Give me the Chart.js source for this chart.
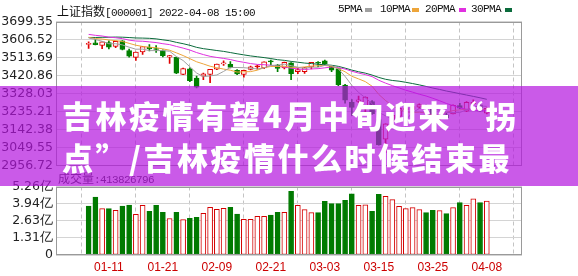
<!DOCTYPE html>
<html><head><meta charset="utf-8">
<script src="https://cdn.jsdelivr.net/npm/chart.js@4.4.1/dist/chart.umd.min.js"></script>
<style>
html,body{margin:0;padding:0;background:#fff;}
#wrap{position:relative;width:578px;height:276px;overflow:hidden;background:#fff;}
canvas{position:absolute;left:0;}
#c1{top:0;} #c2{top:176px;}
.t{position:absolute;white-space:nowrap;color:#111;}
.mono{font-family:'Liberation Mono',monospace;font-size:11px;letter-spacing:-0.6px;line-height:14px;}
.cjk{font-family:'Noto Sans CJK SC';font-size:12px;line-height:14px;letter-spacing:0;}
.mk{position:absolute;width:7px;height:4px;top:8px;}
#vt{left:58px;top:169px;color:#333;z-index:1;}
#banner{position:absolute;left:0;top:86px;width:578px;height:100px;background:rgba(180,20,222,0.7);z-index:5;}
.bt{position:absolute;left:62px;font-family:'Noto Sans CJK SC';font-weight:900;font-size:31px;line-height:31px;letter-spacing:2.5px;color:#fff;white-space:nowrap;}
</style></head>
<body><div id="wrap">
<canvas id="c1" width="578" height="176"></canvas>
<canvas id="c2" width="578" height="100"></canvas>
<div class="t" style="left:57px;top:2px;"><span class="cjk">上证指数</span><span class="mono">[000001] 2022-04-08 15:00</span></div>
<div class="t mono" style="left:338px;top:2px;">5PMA</div><div class="mk" style="left:365px;background:#a0a0a0"></div>
<div class="t mono" style="left:380px;top:2px;">10PMA</div><div class="mk" style="left:412px;background:#eda53a"></div>
<div class="t mono" style="left:425px;top:2px;">20PMA</div><div class="mk" style="left:459px;background:#e030e0"></div>
<div class="t mono" style="left:471px;top:2px;">30PMA</div><div class="mk" style="left:505px;background:#0b6b3c"></div>
<div class="t" id="vt"><span class="cjk">成交量</span><span class="mono">:413826796</span></div>
<div id="banner">
<div class="bt" style="top:13px;">吉林疫情有望4月中旬迎来“拐</div>
<div class="bt" style="top:55px;">点”/吉林疫情什么时候结束最</div>
</div>
</div>
<script>
const dates = ['01-06','01-07','01-10','01-11','01-12','01-13','01-14','01-17','01-18','01-19','01-20','01-21','01-24','01-25','01-26','01-27','01-28','02-07','02-08','02-09','02-10','02-11','02-14','02-15','02-16','02-17','02-18','02-21','02-22','02-23','02-24','02-25','02-28','03-01','03-02','03-03','03-04','03-07','03-08','03-09','03-10','03-11','03-14','03-15','03-16','03-17','03-18','03-21','03-22','03-23','03-24','03-25','03-28','03-29','03-30','03-31','04-01','04-06','04-07','04-08'];
const shownDates = ['01-11','01-21','02-09','02-21','03-03','03-15','03-25','04-08'];
const opens = [3581,3589,3576,3590,3571,3600,3549,3514,3543,3566,3560,3550,3515,3514,3427,3455,3408,3417,3426,3454,3481,3478,3447,3427,3452,3465,3460,3493,3475,3460,3486,3440,3440,3465,3487,3497,3469,3457,3371,3282,3287,3262,3287,3193,3092,3186,3210,3243,3246,3257,3262,3251,3197,3218,3223,3266,3237,3275,3270,3227];
const highs = [3594,3607,3594,3600,3598,3601,3557,3542,3571,3580,3575,3553,3525,3516,3459,3460,3418,3433,3453,3480,3497,3493,3452,3449,3470,3475,3491,3500,3479,3490,3487,3459,3463,3489,3493,3500,3470,3457,3375,3297,3315,3311,3291,3197,3172,3227,3252,3256,3263,3275,3270,3255,3216,3226,3269,3277,3287,3296,3271,3256];
const lows = [3560,3578,3559,3558,3565,3553,3515,3499,3530,3547,3540,3517,3483,3430,3425,3389,3357,3400,3384,3451,3473,3460,3425,3412,3449,3454,3456,3475,3440,3455,3400,3430,3432,3455,3466,3473,3441,3368,3278,3215,3281,3228,3220,3062,3023,3176,3200,3225,3235,3251,3245,3210,3180,3198,3223,3250,3234,3271,3236,3223];
const closes = [3586,3580,3594,3567,3597,3555,3521,3542,3570,3558,3555,3523,3524,3433,3456,3394,3361,3430,3453,3480,3486,3463,3429,3447,3466,3468,3491,3491,3457,3489,3430,3451,3462,3489,3484,3481,3448,3373,3294,3256,3296,3310,3224,3064,3171,3215,3251,3254,3260,3271,3250,3212,3215,3204,3267,3252,3283,3283,3237,3252];
const ma5 = [3614.4,3606.6,3597.4,3584.4,3584.8,3578.6,3566.8,3556.4,3557.0,3549.2,3549.2,3549.6,3546.0,3518.6,3498.2,3466.0,3433.6,3414.8,3418.8,3423.6,3442.0,3462.4,3462.2,3461.0,3458.2,3454.6,3460.2,3472.6,3474.6,3479.2,3471.6,3463.6,3457.8,3464.2,3463.2,3473.4,3472.8,3455.0,3416.0,3370.4,3333.4,3305.8,3276.0,3230.0,3213.0,3196.8,3185.0,3191.0,3230.2,3250.2,3257.2,3249.4,3241.6,3230.4,3229.6,3230.0,3244.2,3257.8,3264.4,3261.4];
const ma10 = [3617.6,3611.3,3608.9,3604.0,3600.7,3596.5,3586.7,3576.9,3570.7,3567.0,3563.9,3558.2,3551.2,3537.8,3523.7,3507.6,3491.6,3480.4,3468.7,3460.9,3454.0,3448.0,3438.5,3439.9,3440.9,3448.3,3461.3,3467.4,3467.8,3468.7,3463.1,3461.9,3465.2,3469.4,3471.2,3472.5,3468.2,3456.4,3440.1,3416.8,3403.4,3389.3,3365.5,3323.0,3291.7,3265.1,3245.4,3233.5,3230.1,3231.6,3227.0,3217.2,3216.3,3230.3,3239.9,3243.6,3246.8,3249.7,3247.4,3245.5];
const ma20 = [3632.8,3628.1,3624.5,3618.8,3615.6,3610.9,3603.2,3598.7,3597.5,3594.2,3590.8,3584.8,3580.1,3570.9,3562.2,3552.1,3539.2,3528.7,3519.7,3514.0,3509.0,3503.1,3494.9,3488.9,3482.3,3478.0,3476.5,3473.9,3468.3,3464.8,3458.6,3455.0,3451.9,3454.7,3456.1,3460.4,3464.8,3461.9,3454.0,3442.8,3433.3,3425.6,3415.4,3396.2,3381.5,3368.8,3356.8,3345.0,3335.1,3324.2,3315.2,3303.3,3290.9,3276.7,3265.8,3254.4,3246.1,3241.6,3238.8,3238.6];
const ma30 = [3617.0,3616.9,3617.9,3618.0,3619.1,3618.4,3616.6,3614.4,3613.8,3612.6,3609.8,3604.8,3600.1,3591.8,3584.9,3576.5,3566.0,3559.3,3554.6,3549.7,3545.2,3539.2,3532.9,3527.2,3521.8,3517.5,3513.2,3508.2,3502.4,3498.9,3493.7,3489.4,3485.0,3482.4,3478.6,3476.1,3473.7,3468.1,3458.9,3448.8,3440.2,3433.1,3423.1,3410.8,3401.3,3395.3,3391.6,3385.8,3379.3,3372.4,3364.5,3356.1,3349.0,3340.9,3334.3,3327.1,3320.1,3313.2,3305.9,3298.0];
const volume = [3.76,4.44,3.56,3.56,3.43,3.76,3.83,3.12,3.81,3.35,3.81,3.28,2.80,3.28,2.72,2.82,2.90,3.20,3.66,3.51,3.58,3.66,3.15,2.74,2.74,2.97,2.97,3.07,3.28,3.28,4.88,3.81,3.48,3.25,3.25,4.12,3.94,3.94,4.19,4.70,3.81,3.86,3.35,4.65,4.50,4.25,3.73,3.56,3.64,3.48,3.25,3.43,3.41,3.18,3.64,4.02,3.81,4.32,4.02,4.14];
const volumeUp = [0,0,1,0,1,0,0,1,1,0,0,0,1,0,1,0,0,1,1,1,1,0,0,1,1,1,1,0,0,1,0,1,1,1,0,0,0,0,0,0,1,1,0,0,1,1,1,1,1,1,0,0,1,0,1,0,1,1,0,1];
const priceTicks = [2956.72,3049.55,3142.38,3235.21,3328.03,3420.86,3513.69,3606.52,3699.35];
const volTicks = [0,1.31,2.63,3.94,5.26];
const volTickLabels = ['0','1.31亿','2.63亿','3.94亿','5.26亿'];

const RED='#e00000', GREEN='#008000', VRED='#d40000', VGREEN='#007a00';
const tickIdx = shownDates.map(d=>dates.indexOf(d));
Chart.defaults.font.family='DejaVu Sans';
const frame={id:'frame',afterDraw(chart){const {ctx,chartArea:a}=chart;ctx.save();ctx.strokeStyle='#9a9a9a';ctx.lineWidth=1;
 const l=Math.round(a.left)+0.5,t=Math.round(a.top)+0.5,r=Math.round(a.right)-0.5,b=Math.round(a.bottom)-0.5;
 ctx.strokeRect(l,t,r-l,b-t);ctx.restore();}};
const xCommon = (showLabels)=>({type:'linear',min:-0.52,max:59.9,
  afterBuildTicks:s=>{s.ticks=tickIdx.map(v=>({value:v}));},
  ticks:{display:showLabels,callback:(v)=>dates[v],color:'#cc0000',font:{family:'Liberation Sans',size:12},padding:5,maxRotation:0,autoSkip:false},
  grid:{color:'#c4c4c4',drawTicks:false},border:{display:false,dash:[4,3]}});
const up = opens.map((o,i)=>closes[i]>=o);
const candleColor = up.map(u=>u?RED:GREEN);
const bodyFill = up.map((u,i)=>u&&Math.abs(closes[i]-opens[i])>4?'#ffffff':(u?RED:GREEN));
const line=(data,color)=>({type:'line',data:data.map((v,i)=>({x:i,y:v})),borderColor:color,borderWidth:1,pointRadius:0,tension:0,order:0});
new Chart(document.getElementById('c1'),{type:'bar',
 data:{datasets:[
  line(ma5,'#a0a0a0'),line(ma10,'#eda53a'),line(ma20,'#e030e0'),line(ma30,'#0b6b3c'),
  {type:'bar',data:opens.map((o,i)=>({x:i,y:[o,closes[i]]})),backgroundColor:bodyFill,borderColor:candleColor,borderWidth:1,borderSkipped:false,barThickness:5,minBarLength:1,grouped:false,order:1},
  {type:'bar',data:lows.map((l,i)=>({x:i,y:[l,highs[i]]})),backgroundColor:candleColor,borderWidth:0,barThickness:1,grouped:false,order:2}
 ]},
 options:{responsive:false,animation:false,devicePixelRatio:1,
  plugins:{legend:{display:false},tooltip:{enabled:false}},
  layout:{padding:{top:21.5,right:56,bottom:10,left:0}},
  scales:{x:xCommon(false),
   y:{type:'linear',min:2956.72,max:3699.35,afterBuildTicks:s=>{s.ticks=priceTicks.map(v=>({value:v}));},
    ticks:{callback:(v,i)=>priceTicks[i].toFixed(2),color:'#222',font:{size:12.5},padding:3,autoSkip:false},
    afterFit:s=>{s.width=56;},grid:{color:'#d4d4d4',drawTicks:false},border:{display:false}}}},
 plugins:[frame]});
new Chart(document.getElementById('c2'),{type:'bar',
 data:{datasets:[{type:'bar',data:volume.map((v,i)=>({x:i,y:v})),backgroundColor:volumeUp.map(u=>u?'#ffffff':VGREEN),borderColor:volumeUp.map(u=>u?VRED:VGREEN),borderWidth:1,borderSkipped:false,barThickness:5,grouped:false}]},
 options:{responsive:false,animation:false,devicePixelRatio:1,
  plugins:{legend:{display:false},tooltip:{enabled:false}},
  layout:{padding:{top:10,right:56,bottom:0,left:0}},
  scales:{x:Object.assign(xCommon(true),{afterFit:s=>{s.height=21;}}),
   y:{type:'linear',min:0,max:5.26,afterBuildTicks:s=>{s.ticks=volTicks.map(v=>({value:v}));},
    ticks:{callback:(v,i)=>volTickLabels[i],color:'#222',font:{size:12.5},padding:3,autoSkip:false},
    afterFit:s=>{s.width=56;},grid:{color:'#d4d4d4',drawTicks:false},border:{display:false}}}},
 plugins:[frame]});
</script>
</body></html>
